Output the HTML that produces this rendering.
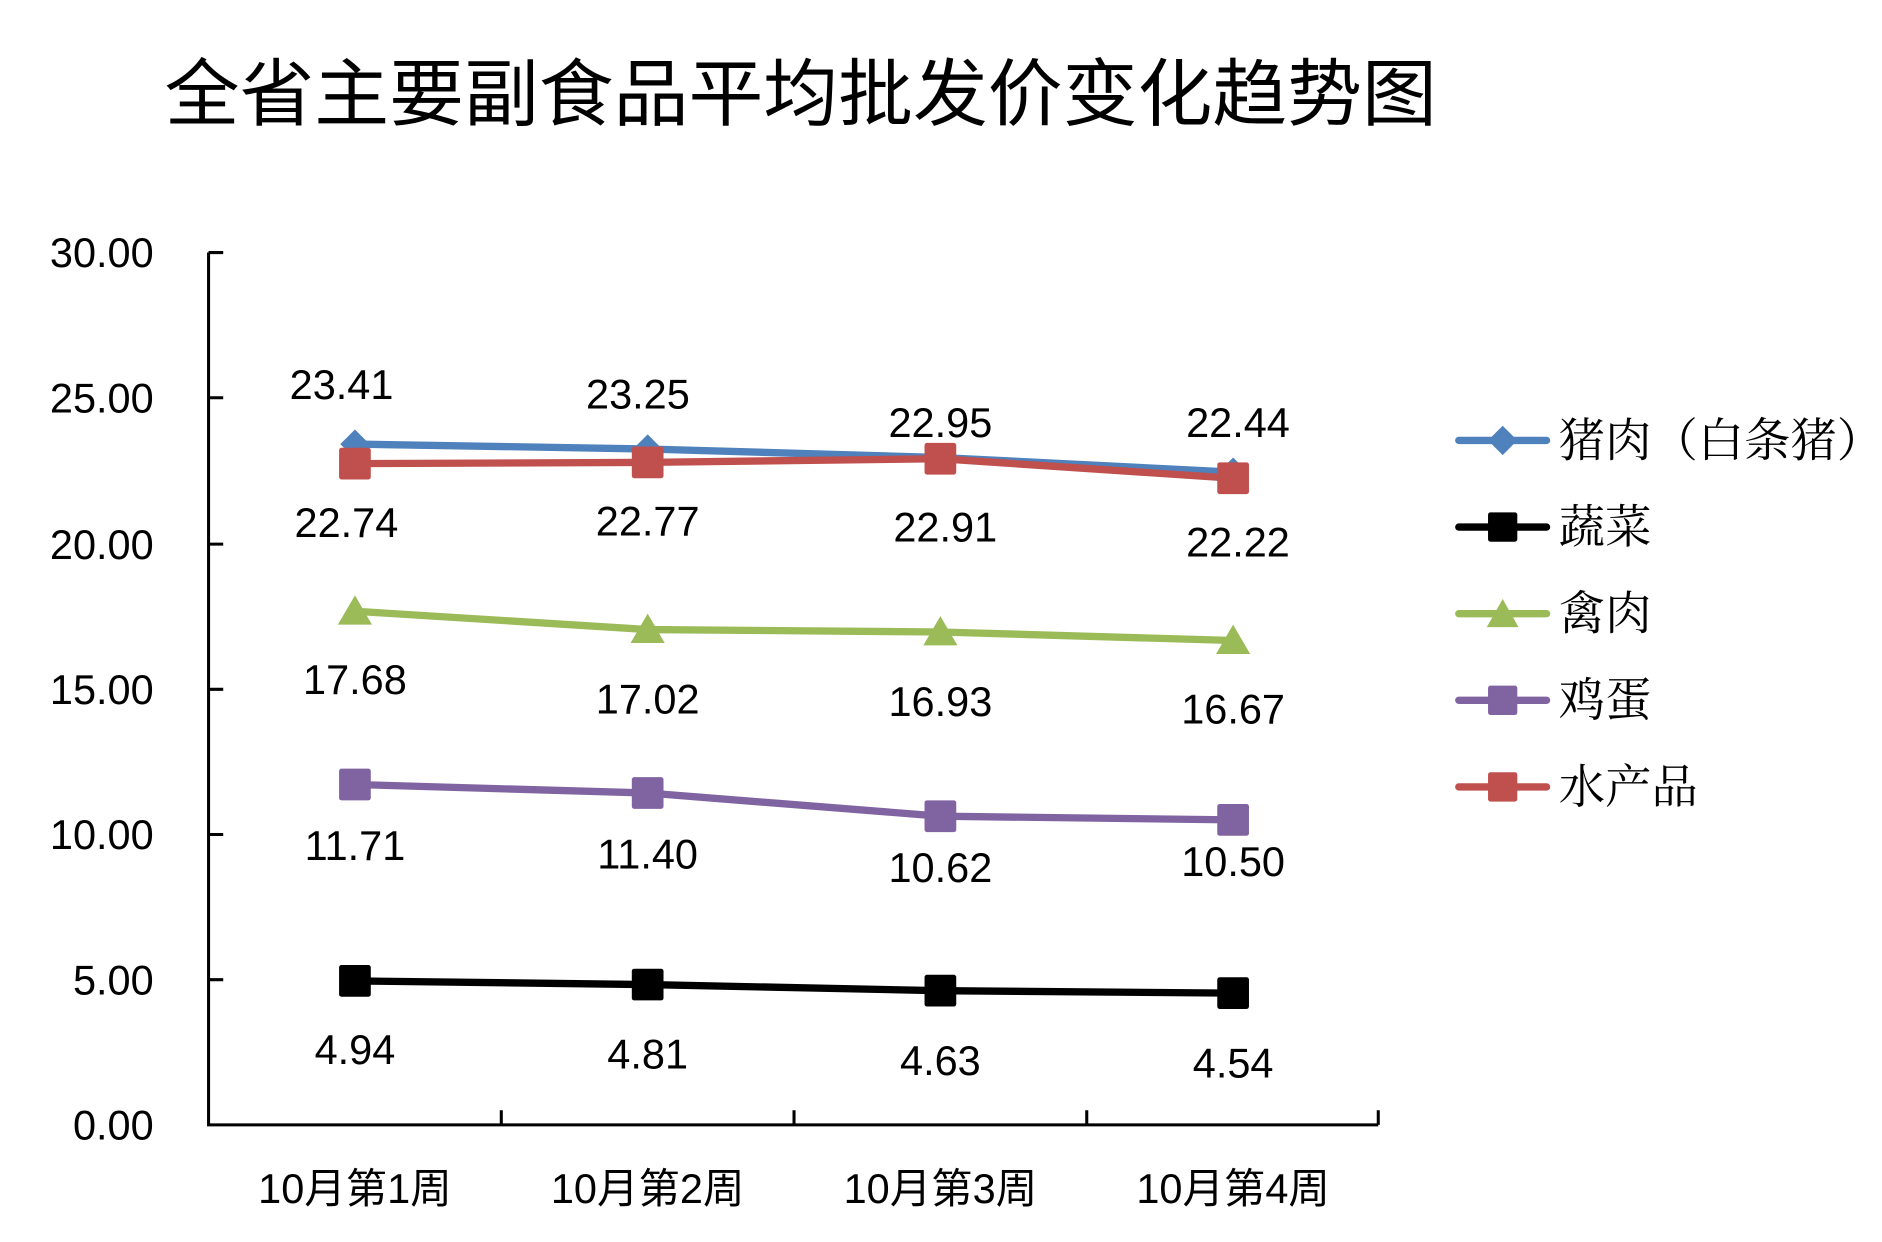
<!DOCTYPE html>
<html><head><meta charset="utf-8"><style>
html,body{margin:0;padding:0;background:#fff;}
svg{display:block}
.t{font-family:"Liberation Sans","Noto Sans CJK SC",sans-serif;font-size:34px;fill:#000}
.lg{font-family:"Liberation Serif","Noto Serif CJK SC",serif;font-size:38px;fill:#000}
</style></head><body>
<svg width="1882" height="1242" viewBox="0 0 1543 1018" preserveAspectRatio="none" xmlns="http://www.w3.org/2000/svg">
<rect width="1543" height="1018" fill="#fff"/>
<text x="135" y="98" font-family="'Noto Sans CJK SC',sans-serif" font-size="60" font-weight="400" textLength="1043" lengthAdjust="spacingAndGlyphs">全省主要副食品平均批发价变化趋势图</text>
<g stroke="#000" stroke-width="2.5" fill="none">
<path d="M171 207V922H1130"/>
<path d="M171 207h12M171 326h12M171 446h12M171 565h12M171 684h12M171 803h12"/>
<path d="M411 922v-12M651 922v-12M891 922v-12M1130 922v-12"/>
</g>
<g class="t" text-anchor="end">
<text x="126" y="219">30.00</text><text x="126" y="338">25.00</text><text x="126" y="458">20.00</text>
<text x="126" y="577">15.00</text><text x="126" y="696">10.00</text><text x="126" y="815">5.00</text><text x="126" y="934">0.00</text>
</g>
<g class="t" text-anchor="middle" font-size="37">
<text x="291" y="986">10月第1周</text><text x="531" y="986">10月第2周</text><text x="771" y="986">10月第3周</text><text x="1011" y="986">10月第4周</text>
</g>
<g fill="none" stroke-width="6" stroke-linejoin="round">
<polyline points="291,364 531,368 771,375 1011,387" stroke="#4f81bd"/>
<polyline points="291,804 531,807 771,812 1011,814" stroke="#000"/>
<polyline points="291,501 531,516 771,518 1011,525" stroke="#9bbb59"/>
<polyline points="291,643 531,650 771,669 1011,672" stroke="#8064a2"/>
<polyline points="291,380 531,379 771,376 1011,392" stroke="#c0504d"/>
</g>
<g fill="#4f81bd"><path d="M291 352l12 12-12 12-12-12z"/><path d="M531 356l12 12-12 12-12-12z"/><path d="M771 363l12 12-12 12-12-12z"/><path d="M1011 375l12 12-12 12-12-12z"/></g>
<g fill="#000"><rect x="278" y="791" width="26" height="26" rx="2"/><rect x="518" y="794" width="26" height="26" rx="2"/><rect x="758" y="799" width="26" height="26" rx="2"/><rect x="998" y="801" width="26" height="26" rx="2"/></g>
<g fill="#9bbb59"><path d="M291 488l14 24h-28z"/><path d="M531 503l14 24h-28z"/><path d="M771 505l14 24h-28z"/><path d="M1011 512l14 24h-28z"/></g>
<g fill="#8064a2"><rect x="278" y="630" width="26" height="26" rx="2"/><rect x="518" y="637" width="26" height="26" rx="2"/><rect x="758" y="656" width="26" height="26" rx="2"/><rect x="998" y="659" width="26" height="26" rx="2"/></g>
<g fill="#c0504d"><rect x="278" y="367" width="26" height="26" rx="2"/><rect x="518" y="366" width="26" height="26" rx="2"/><rect x="758" y="363" width="26" height="26" rx="2"/><rect x="998" y="379" width="26" height="26" rx="2"/></g>
<g class="t" text-anchor="middle">
<text x="280" y="327">23.41</text><text x="523" y="335">23.25</text><text x="771" y="358">22.95</text><text x="1015" y="358">22.44</text>
<text x="284" y="440">22.74</text><text x="531" y="439">22.77</text><text x="775" y="444">22.91</text><text x="1015" y="456">22.22</text>
<text x="291" y="569">17.68</text><text x="531" y="585">17.02</text><text x="771" y="587">16.93</text><text x="1011" y="593">16.67</text>
<text x="291" y="705">11.71</text><text x="531" y="712">11.40</text><text x="771" y="723">10.62</text><text x="1011" y="718">10.50</text>
<text x="291" y="872">4.94</text><text x="531" y="876">4.81</text><text x="771" y="881">4.63</text><text x="1011" y="883">4.54</text>
</g>
<g stroke-width="6" stroke-linecap="round">
<line x1="1196" y1="361" x2="1268" y2="361" stroke="#4f81bd"/>
<line x1="1196" y1="432" x2="1268" y2="432" stroke="#000"/>
<line x1="1196" y1="503" x2="1268" y2="503" stroke="#9bbb59"/>
<line x1="1196" y1="574" x2="1268" y2="574" stroke="#8064a2"/>
<line x1="1196" y1="645" x2="1268" y2="645" stroke="#c0504d"/>
</g>
<path d="M1232 349l12 12-12 12-12-12z" fill="#4f81bd"/>
<rect x="1220" y="420" width="24" height="24" rx="2" fill="#000"/>
<path d="M1232 491l13 23h-26z" fill="#9bbb59"/>
<rect x="1220" y="562" width="24" height="24" rx="2" fill="#8064a2"/>
<rect x="1220" y="633" width="24" height="24" rx="2" fill="#c0504d"/>
<g class="lg">
<text x="1278" y="374">猪肉（白条猪）</text><text x="1278" y="445">蔬菜</text><text x="1278" y="516">禽肉</text><text x="1278" y="587">鸡蛋</text><text x="1278" y="658">水产品</text>
</g>
</svg>
</body></html>
